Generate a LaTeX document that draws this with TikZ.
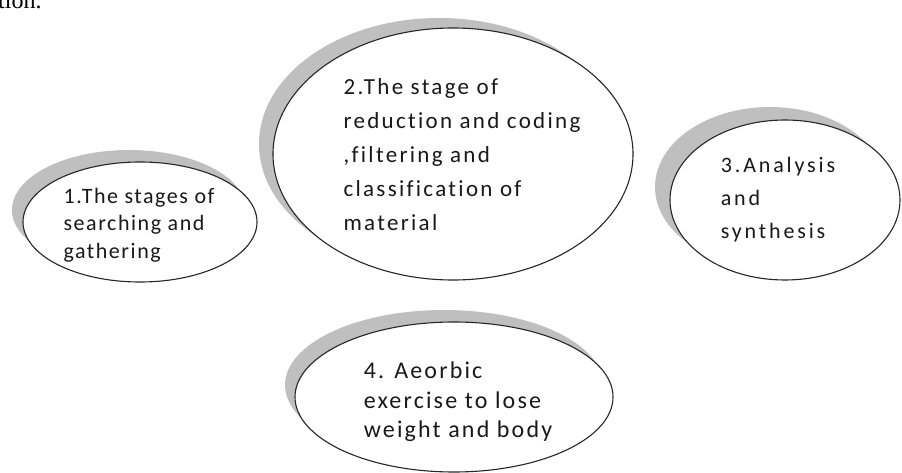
\documentclass[tikz,border=0pt]{standalone}
\usepackage{fontspec}
\setmainfont{Carlito}
\newfontfamily\tailserif{Liberation Serif}
\usetikzlibrary{shapes.geometric,shadows}
\definecolor{shadowgray}{HTML}{BFBFBF}
% size, line distance, letter spacing
\newcommand\stagefont[3]{\fontsize{#1}{#2}\selectfont
  \addfontfeature{LetterSpace=#3, Ligatures=NoCommon}}
\tikzset{
  stage/.style n args={2}{ellipse, draw=black!85, line width=1.1pt, fill=white,
    inner sep=0pt,
    drop shadow={shadow xshift=#1, shadow yshift=#2, fill=shadowgray, opacity=1}},
  stage text/.style={align=left, inner sep=0pt, text=black!90}
}
\begin{document}
\begin{tikzpicture}[x=1pt, y=-1pt]
  \clip (0,0) rectangle (902,473);
  \fill[white] (0,0) rectangle (902,473);
  % line cut off above the picture
  \node[anchor=base west, inner sep=0pt,
    font=\tailserif\fontsize{24}{28}\selectfont] (tail) at (-2,9) {tion.};
  % stage 1
  \node[stage={-11pt}{12pt}, minimum width=234pt, minimum height=120pt] (s1) at (140,222) {};
  \node[stage text, font=\stagefont{22}{27.5}{7}]
    (t1) at (139,225) {1.The stages of\\searching and\\gathering};
  % stage 2
  \node[stage={-14pt}{10pt}, minimum width=360pt, minimum height=252pt] (s2) at (453,154) {};
  \node[stage text, font=\stagefont{23}{34}{10}]
    (t2) at (462,155) {2.The stage of\\reduction and coding\\,filtering and\\classification of\\material};
  % stage 3
  \node[stage={-15pt}{13pt}, minimum width=230pt, minimum height=160pt] (s3) at (785,200) {};
  \node[stage text, font=\stagefont{22}{33}{13}]
    (t3) at (778,200) {3.Analysis\\and\\synthesis};
  % stage 4
  \node[stage={-10pt}{12pt}, minimum width=318pt, minimum height=150pt] (s4) at (454,397) {};
  \node[stage text, font=\stagefont{24}{29.5}{9}]
    (t4) at (458,402) {4. Aeorbic\\exercise to lose\\weight and body};
\end{tikzpicture}
\end{document}
